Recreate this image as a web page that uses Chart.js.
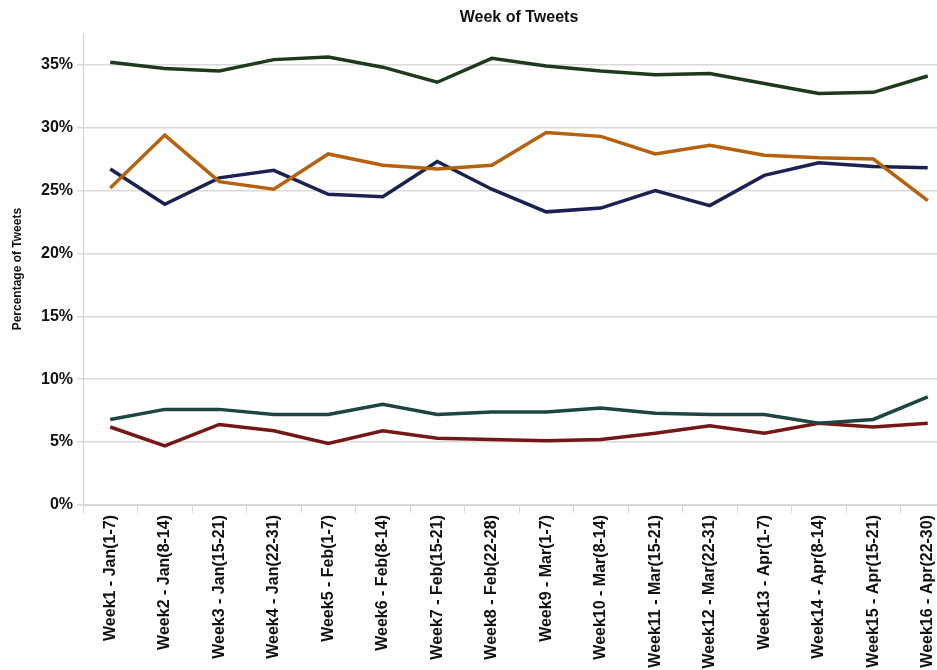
<!DOCTYPE html>
<html>
<head>
<meta charset="utf-8">
<script src="https://cdn.jsdelivr.net/npm/chart.js@4/dist/chart.umd.min.js"></script>
<style>
  html, body { margin: 0; padding: 0; background: #fff; overflow: hidden; }
  #wrap { position: relative; width: 960px; height: 670px; }
</style>
</head>
<body>
<div id="wrap"><canvas id="tweetChart"></canvas></div>
<script>
// Week labels (x axis)
const weeks = [
  'Week1 - Jan(1-7)', 'Week2 - Jan(8-14)', 'Week3 - Jan(15-21)', 'Week4 - Jan(22-31)',
  'Week5 - Feb(1-7)', 'Week6 - Feb(8-14)', 'Week7 - Feb(15-21)', 'Week8 - Feb(22-28)',
  'Week9 - Mar(1-7)', 'Week10 - Mar(8-14)', 'Week11 - Mar(15-21)', 'Week12 - Mar(22-31)',
  'Week13 - Apr(1-7)', 'Week14 - Apr(8-14)', 'Week15 - Apr(15-21)', 'Week16 - Apr(22-30)'
];

// Percentage of tweets per series
const greenSeries  = [35.2, 34.7, 34.5, 35.4, 35.6, 34.8, 33.6, 35.5, 34.9, 34.5, 34.2, 34.3, 33.5, 32.7, 32.8, 34.1];
const orangeSeries = [25.2, 29.4, 25.7, 25.1, 27.9, 27.0, 26.7, 27.0, 29.6, 29.3, 27.9, 28.6, 27.8, 27.6, 27.5, 24.2];
const navySeries   = [26.7, 23.9, 26.0, 26.6, 24.7, 24.5, 27.3, 25.1, 23.3, 23.6, 25.0, 23.8, 26.2, 27.2, 26.9, 26.8];
const tealSeries   = [6.8, 7.6, 7.6, 7.2, 7.2, 8.0, 7.2, 7.4, 7.4, 7.7, 7.3, 7.2, 7.2, 6.5, 6.8, 8.6];
const redSeries    = [6.2, 4.7, 6.4, 5.9, 4.9, 5.9, 5.3, 5.2, 5.1, 5.2, 5.7, 6.3, 5.7, 6.5, 6.2, 6.5];

const yTicks = [0, 5, 10, 15, 20, 25, 30, 35];

function line(data, color) {
  return {
    data: data,
    borderColor: color,
    backgroundColor: color,
    borderWidth: 3.5,
    pointRadius: 0,
    tension: 0,
    fill: false
  };
}

const font = 'Liberation Sans, Arial, sans-serif';

new Chart(document.getElementById('tweetChart'), {
  type: 'line',
  data: {
    labels: weeks,
    datasets: [
      line(greenSeries, '#1e3a1c'),
      line(orangeSeries, '#b5610e'),
      line(navySeries, '#1b2150'),
      line(tealSeries, '#1d4642'),
      line(redSeries, '#741717')
    ]
  },
  options: {
    responsive: true,
    maintainAspectRatio: false,
    animation: false,
    layout: { padding: { top: 0, right: 5, left: 0, bottom: 0 } },
    plugins: {
      legend: { display: false },
      tooltip: { enabled: false },
      title: {
        display: true,
        text: 'Week of Tweets',
        fullSize: false,
        color: '#111',
        font: { family: font, size: 16, weight: 'bold' },
        padding: { top: 8, bottom: 6 }
      }
    },
    scales: {
      x: {
        offset: true,
        afterFit: function (scale) { scale.height = 165; },
        border: { color: '#d0d0d0' },
        grid: { drawOnChartArea: false, drawTicks: true, tickLength: 8, color: '#d6d6d6', offset: true },
        ticks: {
          maxRotation: 90,
          minRotation: 90,
          autoSkip: false,
          color: '#111',
          padding: 2,
          font: { family: font, size: 16, weight: 'bold' }
        }
      },
      y: {
        min: 0,
        max: 37.5,
        afterFit: function (scale) { scale.width = 83; },
        border: { color: '#d0d0d0' },
        afterBuildTicks: function (scale) {
          scale.ticks = yTicks.map(v => ({ value: v }));
        },
        grid: { color: '#dadada', lineWidth: 1.5, tickLength: 6 },
        ticks: {
          color: '#111',
          padding: 4,
          font: { family: font, size: 16, weight: 'bold' },
          callback: v => v + '%'
        },
        title: {
          display: true,
          text: 'Percentage of Tweets',
          color: '#111',
          padding: { top: 10, bottom: 0 },
          font: { family: font, size: 12, weight: 'bold' }
        }
      }
    }
  }
});
</script>
</body>
</html>
